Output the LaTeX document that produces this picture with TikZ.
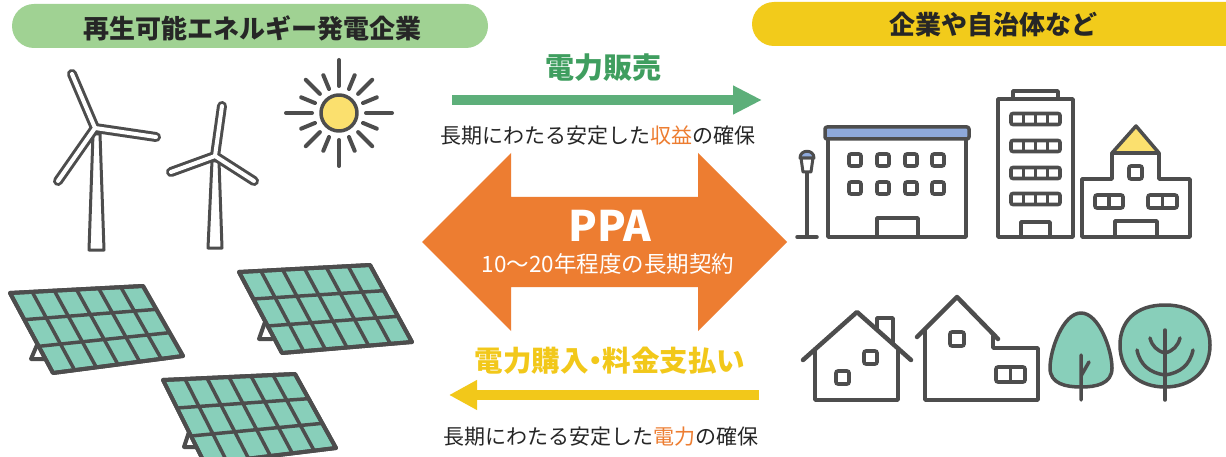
\documentclass[tikz,border=0pt]{standalone}
\usepackage{fontspec}
\setmainfont{Noto Sans CJK JP}
\usetikzlibrary{arrows.meta,calc}

\definecolor{hdrgreen}{HTML}{A0D293}
\definecolor{hdryellow}{HTML}{F2CB1B}
\definecolor{sellgreen}{HTML}{5DAF7A}
\definecolor{selltext}{HTML}{3F9E5F}
\definecolor{ppaorange}{HTML}{ED7D31}
\definecolor{payyellow}{HTML}{F2C81A}
\definecolor{ink}{HTML}{4D4D4D}
\definecolor{txt}{HTML}{262626}
\definecolor{mint}{HTML}{88CFBA}
\definecolor{sunfill}{HTML}{FBE06E}
\definecolor{roofblue}{HTML}{8EA9DB}

\tikzset{
  header/.style={rounded corners=22pt},
  hdrtext/.style={text=txt, font=\fontsize{26}{30}\selectfont\bfseries},
  caption/.style={text=txt, font=\fontsize{21}{25}\selectfont},
  outline/.style={draw=ink, line width=3.5pt, line join=round, line cap=round},
  panel/.style={draw=ink, fill=mint, line width=4pt, line join=round},
  gridline/.style={draw=ink, line width=3.5pt},
  win/.style={draw=ink, fill=white, line width=3.6pt, rounded corners=2pt},
  blade/.style={draw=ink, line width=10pt, line cap=round},
  bladein/.style={draw=white, line width=4pt, line cap=round},
}

% solar panel: corners TL, TR, BR, BL and the stand path
\newcommand\pvpanel[5]{%
  \begin{scope}
    \coordinate (tl) at #1; \coordinate (tr) at #2;
    \coordinate (br) at #3; \coordinate (bl) at #4;
    \draw[outline, line width=4pt] #5;
    \filldraw[panel] (tl) -- (tr) -- (br) -- (bl) -- cycle;
    \foreach \u in {1,...,5}
      \draw[gridline] ($(tl)!\u/6!(tr)$) -- ($(bl)!\u/6!(br)$);
    \foreach \v in {1,2}
      \draw[gridline] ($(tl)!\v/3!(bl)$) -- ($(tr)!\v/3!(br)$);
    \draw[panel, fill=none] (tl) -- (tr) -- (br) -- (bl) -- cycle;
  \end{scope}}

% wind turbine: hub, tower corners (top-left, top-right, bottom-right, bottom-left), three blade tips
\newcommand\turbine[8]{%
  \filldraw[outline, fill=white, line width=3pt] #2 -- #3 -- #4 -- #5 -- cycle;
  \draw[blade] #1 -- #6 #1 -- #7 #1 -- #8;
  \draw[bladein] #1 -- #6 #1 -- #7 #1 -- #8;}

\begin{document}
\begin{tikzpicture}[x=1pt, y=-1pt]
\useasboundingbox (0,0) rectangle (1226,457);
\clip (0,0) rectangle (1226,457);
\fill[white] (0,0) rectangle (1226,457);

% ---------- headers ----------
\fill[hdrgreen, header] (12,4) rectangle (488,48);
\node[hdrtext] (genco) at (252,28) {再生可能エネルギー発電企業};
\fill[hdryellow, header] (752,2) rectangle (1250,46);
\node[hdrtext] (buyer) at (993,25) {企業や自治体など};

% ---------- wind turbines ----------
\turbine{(95,128)}{(93,134)}{(100,134)}{(104,250)}{(89,250)}{(72,74)}{(156,137)}{(58,181)}
\turbine{(215,156)}{(212,161)}{(219,161)}{(222,248)}{(208,248)}{(222,106)}{(171,172)}{(254,181)}

% ---------- sun ----------
\coordinate (sun) at (339,113);
\foreach \a in {0,22.5,...,337.5}{
  \pgfmathsetmacro\rr{mod(\a,90)==0 ? 53 : (mod(\a,45)==0 ? 47 : 41)}
  \pgfmathsetmacro\ri{mod(\a,45)==0 ? 27 : 26}
  \draw[ink, line width=4pt, line cap=round]
    ($(sun)+(\a:\ri)$) -- ($(sun)+(\a:\rr)$);
}
\filldraw[outline, fill=sunfill] (sun) circle[radius=18];

% ---------- solar panels ----------
\pvpanel{(10,293)}{(143,286)}{(183,356)}{(53,373)}{(37,345) -- (31,359) -- (46,359)}
\pvpanel{(239,272)}{(370,265)}{(412,342)}{(282,353)}{(265,322) -- (259,339) -- (272,339)}
\pvpanel{(163,380)}{(295,374)}{(336,448)}{(205,464)}{(189,432) -- (184,447) -- (196,447)}

% ---------- centre: sales arrow ----------
\node[font=\fontsize{29}{34}\selectfont\bfseries, text=selltext] (sell) at (603,68) {電力販売};
\coordinate (sellA) at (452,100);
\coordinate (sellB) at (762,100);
\draw[sellgreen, line width=10pt, -{Triangle[length=29pt, width=27pt]}] (sellA) -- (sellB);
\node[caption] (revenue) at (598,136) {長期にわたる安定した\textcolor{ppaorange}{収益}の確保};

% ---------- centre: PPA double arrow ----------
\fill[ppaorange] (422,242) -- (511,153) -- (511,197) -- (698,197) -- (698,153)
  -- (787,242) -- (698,331) -- (698,287) -- (511,287) -- (511,331) -- cycle;
\node[text=white, font=\fontsize{42}{46}\selectfont\bfseries] (ppa) at (610,226) {PPA};
\node[text=white, font=\fontsize{22.5}{26}\selectfont] (term) at (608,264) {10～20年程度の長期契約};

% ---------- centre: payment arrow ----------
\node[font=\fontsize{28.5}{32}\selectfont\bfseries, text=payyellow] (pay) at (610,361)
  {電力購入\kern-0.25em・\kern-0.25em料金支払い};
\coordinate (payA) at (759,395);
\coordinate (payB) at (449,395);
\draw[payyellow, line width=10pt, -{Triangle[length=28pt, width=28pt]}] (payA) -- (payB);
\node[caption] (supply) at (601,437) {長期にわたる安定した\textcolor{ppaorange}{電力}の確保};

% ---------- street lamp ----------
\draw[outline] (807,172) -- (807,237) (797,237) -- (817,237);
\filldraw[outline, fill=white, line width=3pt] (801,158) -- (813,158) -- (811,172) -- (803,172) -- cycle;
\filldraw[outline, fill=roofblue, line width=3pt] (800,158) .. controls (800,149) and (814,149) .. (814,158) -- cycle;

% ---------- office building ----------
\filldraw[outline, fill=white] (828,132) rectangle (966,237);
\filldraw[outline, fill=roofblue, rounded corners=2pt] (825,127) rectangle (969,139);
\foreach \x in {855,883,911,938}
  \foreach \y in {160,188}
    \draw[win] (\x-6,\y-6) rectangle (\x+6,\y+6);
\draw[outline] (877,237) -- (877,218) -- (918,218) -- (918,237);

% ---------- tower block ----------
\filldraw[outline, fill=white] (1013,91) rectangle (1058,99);
\filldraw[outline, fill=white] (998,99) rectangle (1073,237);
\foreach \y in {119,146,173,199}{
  \draw[win] (1011,\y-5.5) rectangle (1060,\y+5.5);
  \foreach \k in {1,2,3}
    \draw[ink, line width=3.4pt] (1011+\k*12.25,\y-5.5) -- (1011+\k*12.25,\y+5.5);
}
\draw[outline] (1021,237) -- (1021,222) -- (1050,222) -- (1050,237);

% ---------- school ----------
\filldraw[outline, fill=sunfill] (1112,153) -- (1136,126) -- (1159,153) -- cycle;
\filldraw[outline, fill=white] (1082,237) -- (1082,179) -- (1112,179) -- (1112,153)
  -- (1159,153) -- (1159,179) -- (1190,179) -- (1190,237) -- cycle;
\draw[win] (1129,166) rectangle (1142,179);
\draw[win] (1095,195) rectangle (1123,208);
\draw[ink, line width=3.4pt] (1109,195) -- (1109,208);
\draw[win] (1148,195) rectangle (1177,208);
\draw[ink, line width=3.4pt] (1162.5,195) -- (1162.5,208);
\draw[outline] (1115,237) -- (1115,221) -- (1157,221) -- (1157,237);

% ---------- house with chimney ----------
\draw[outline] (815,349) -- (815,400) -- (898,400) -- (898,348);
\draw[outline] (877,330) -- (877,318) -- (893,318) -- (893,344);
\draw[outline, line width=4.5pt] (803,360) -- (857,312) -- (911,360);
\draw[win] (864,351) rectangle (877,364);
\draw[win] (836,371) rectangle (849,384);

% ---------- house with extension ----------
\draw[outline] (925,329) -- (925,400) -- (1038,400) -- (1038,348) -- (993,348) -- (993,336);
\draw[outline, line width=4.5pt] (917,337) -- (957,297) -- (998,339);
\draw[win] (950,332) rectangle (964,346);
\draw[win] (996,367) rectangle (1025,382);
\draw[ink, line width=3.4pt] (1010.5,367) -- (1010.5,382);

% ---------- trees ----------
\filldraw[outline, fill=mint] (1081,313) .. controls (1099,313) and (1112,350) .. (1112,368)
  .. controls (1112,384) and (1096,387) .. (1081,387)
  .. controls (1066,387) and (1050,384) .. (1050,368)
  .. controls (1050,350) and (1063,313) .. (1081,313) -- cycle;
\draw[outline] (1081,400) -- (1081,355) (1081,376) -- (1089,362);

\filldraw[outline, fill=mint] (1165,305) .. controls (1195,305) and (1210,322) .. (1210,345)
  .. controls (1210,372) and (1190,387) .. (1165,387)
  .. controls (1140,387) and (1120,372) .. (1120,345)
  .. controls (1120,322) and (1135,305) .. (1165,305) -- cycle;
\draw[outline] (1165,400) -- (1165,330);
\draw[outline] (1165,375) .. controls (1150,373) and (1140,365) .. (1137,350);
\draw[outline] (1165,375) .. controls (1180,373) and (1190,365) .. (1193,350);
\draw[outline] (1165,353) .. controls (1157,351) and (1152,346) .. (1150,338);
\draw[outline] (1165,353) .. controls (1173,351) and (1178,346) .. (1180,338);
\end{tikzpicture}
\end{document}
